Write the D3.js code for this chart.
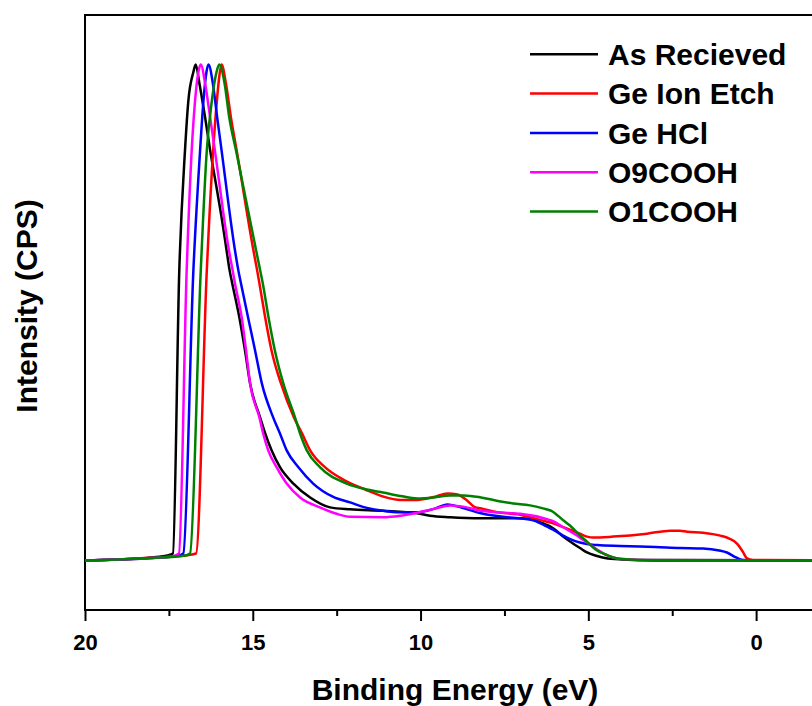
<!DOCTYPE html>
<html>
<head>
<meta charset="utf-8">
<script src="https://cdn.jsdelivr.net/npm/d3@7"></script>
<style>
  body { margin: 0; background: #fff; }
  svg { display: block; font-family: "Liberation Sans", Arial, sans-serif; font-weight: bold; }
</style>
</head>
<body>
<svg id="chart" width="812" height="706"></svg>
<script>
//

const seriesNames = ['As Recieved', 'Ge Ion Etch', 'Ge HCl', 'O9COOH', 'O1COOH']
const seriesColors = ['#000000', '#ff0000', '#0000ff', '#ff00ff', '#008000']
const majorTicks = [20, 15, 10, 5, 0]
const minorTicks = [17.5, 12.5, 7.5, 2.5, -2.5]

// [binding energy (eV), normalised intensity]
const asRecieved = [
  [20, 0], [19, 0.002], [18, 0.006], [17.55, 0.01], [17.38, 0.014], [17.19, 0.585], [17.02, 0.827],
  [16.92, 0.927], [16.77, 0.985], [16.7, 1.0], [16.59, 0.962], [16.42, 0.893], [16.27, 0.827],
  [16.1, 0.76], [15.93, 0.692], [15.78, 0.625], [15.69, 0.585], [15.61, 0.558], [15.4, 0.49],
  [15.23, 0.423], [15.08, 0.357], [14.78, 0.288], [14.63, 0.256], [14.44, 0.222], [14.19, 0.188],
  [13.79, 0.155], [13.29, 0.127], [12.7, 0.107], [12.1, 0.103], [11.12, 0.1], [10.1, 0.095],
  [9.72, 0.09], [9.12, 0.087], [8.2, 0.085], [7.1, 0.085], [6.74, 0.084], [6.44, 0.077],
  [6.05, 0.065], [5.75, 0.048], [5.5, 0.036], [5.25, 0.025], [5.04, 0.016], [4.74, 0.009],
  [4.5, 0.005], [4.0, 0.002], [3.0, 0], [-2.5, 0]
]
const geIonEtch = [
  [20, 0], [19, 0.002], [18, 0.006], [17, 0.01], [16.69, 0.014], [16.37, 0.585], [16.18, 0.827],
  [16.07, 0.927], [15.98, 0.985], [15.93, 1.0], [15.8, 0.962], [15.65, 0.893], [15.48, 0.827],
  [14.98, 0.625], [14.87, 0.585], [14.8, 0.558], [14.63, 0.49], [14.44, 0.423], [14.16, 0.357],
  [13.77, 0.288], [13.53, 0.256], [13.29, 0.222], [12.85, 0.188], [12.25, 0.161], [11.65, 0.143],
  [11.12, 0.129], [10.6, 0.122], [10.1, 0.122], [9.6, 0.128], [9.2, 0.135], [8.9, 0.133],
  [8.6, 0.12], [8.4, 0.108], [8.14, 0.104], [7.72, 0.097], [7.12, 0.093], [6.74, 0.087],
  [6.23, 0.078], [6.05, 0.075], [5.75, 0.067], [5.25, 0.054], [5.04, 0.048], [4.85, 0.046],
  [4.26, 0.048], [3.25, 0.054], [2.56, 0.06], [2.27, 0.06], [2.06, 0.058], [1.58, 0.056],
  [1.07, 0.05], [0.8, 0.044], [0.57, 0.034], [0.4, 0.018], [0.27, 0.004], [0.1, 0.001], [-2.5, 0]
]
const geHCl = [
  [20, 0], [19, 0.002], [18, 0.005], [17.2, 0.01], [17.07, 0.014], [16.77, 0.585], [16.57, 0.827],
  [16.47, 0.927], [16.38, 0.985], [16.32, 1.0], [16.19, 0.962], [16.06, 0.893], [15.93, 0.827],
  [15.53, 0.625], [15.43, 0.585], [15.35, 0.558], [15.14, 0.49], [14.93, 0.423], [14.73, 0.357],
  [14.39, 0.288], [14.19, 0.256], [13.99, 0.222], [13.64, 0.188], [13.2, 0.155], [12.6, 0.128],
  [12.1, 0.117], [11.6, 0.106], [11.12, 0.1], [10.6, 0.097], [10.1, 0.097], [9.6, 0.104],
  [9.2, 0.113], [8.7, 0.105], [8.2, 0.095], [7.24, 0.086], [7.03, 0.085], [6.6, 0.08],
  [6.23, 0.068], [6.05, 0.062], [5.75, 0.05], [5.54, 0.043], [5.25, 0.036], [5.04, 0.033],
  [4.74, 0.031], [4.05, 0.029], [3.0, 0.027], [2.27, 0.025], [1.58, 0.024], [1.1, 0.02],
  [0.87, 0.016], [0.6, 0.006], [0.4, 0.001], [0, 0], [-2.5, 0]
]
const o9cooh = [
  [20, 0], [19, 0.002], [18, 0.005], [17.4, 0.008], [17.2, 0.014], [16.97, 0.585], [16.82, 0.827],
  [16.72, 0.927], [16.62, 0.985], [16.55, 1.0], [16.42, 0.962], [16.27, 0.893], [16.13, 0.827],
  [15.71, 0.625], [15.6, 0.585], [15.53, 0.558], [15.33, 0.49], [15.2, 0.423], [15.08, 0.357],
  [14.8, 0.288], [14.69, 0.256], [14.54, 0.222], [14.29, 0.188], [13.99, 0.155], [13.59, 0.127],
  [13.0, 0.107], [12.5, 0.094], [12.1, 0.088], [11.12, 0.087], [10.6, 0.09], [10.1, 0.096],
  [9.6, 0.104], [9.12, 0.111], [8.7, 0.108], [8.2, 0.1], [7.24, 0.095], [7.03, 0.094],
  [6.23, 0.083], [6.05, 0.079], [5.75, 0.067], [5.25, 0.046], [5.04, 0.036], [4.74, 0.022],
  [4.5, 0.012], [4.26, 0.006], [4.0, 0.003], [3.0, 0.001], [-2.5, 0]
]
const o1cooh = [
  [20, 0], [19, 0.002], [18, 0.005], [17, 0.01], [16.87, 0.014], [16.55, 0.585], [16.37, 0.827],
  [16.22, 0.927], [16.08, 0.985], [16.0, 1.0], [15.84, 0.962], [15.7, 0.893], [15.5, 0.827],
  [14.9, 0.625], [14.78, 0.585], [14.7, 0.558], [14.53, 0.49], [14.34, 0.423], [14.09, 0.357],
  [13.74, 0.288], [13.59, 0.256], [13.39, 0.222], [13.0, 0.188], [12.2, 0.155], [11.6, 0.143],
  [11.12, 0.137], [10.6, 0.13], [10.1, 0.125], [9.6, 0.127], [9.12, 0.131], [8.7, 0.131],
  [8.2, 0.127], [7.7, 0.12], [7.24, 0.115], [6.74, 0.111], [6.35, 0.105], [6.1, 0.1],
  [5.75, 0.081], [5.54, 0.07], [5.25, 0.05], [5.04, 0.038], [4.74, 0.02], [4.56, 0.014],
  [4.26, 0.006], [4.0, 0.003], [3.25, 0.001], [-2.5, 0]
]

const seriesData = [asRecieved, geIonEtch, geHCl, o9cooh, o1cooh]

//

const svg = d3.select('#chart')

const x = d3.scaleLinear()
  .domain([20, -2.5])
  .range([85, 840])

const y = d3.scaleLinear()
  .domain([-0.1, 1.1])
  .range([610, 15])

// frame
svg.append('rect')
  .attr('x', x(20))
  .attr('y', y(1.1))
  .attr('width', x(-2.5) - x(20))
  .attr('height', y(-0.1) - y(1.1))
  .attr('fill', 'none')
  .attr('stroke', '#000')
  .attr('stroke-width', 2)

// x axis, major and minor ticks
const xAxis = d3.axisBottom(x)
  .tickValues(majorTicks)
  .tickFormat(d3.format('d'))
  .tickSize(11)
  .tickPadding(13)

const xMinor = d3.axisBottom(x)
  .tickValues(minorTicks)
  .tickFormat('')
  .tickSize(6)

const gx = svg.append('g')
  .attr('transform', `translate(0,${y(-0.1)})`)
  .call(xAxis)
gx.select('.domain').remove()
gx.selectAll('line').attr('stroke-width', 2)
gx.selectAll('text')
  .attr('fill', '#000')
  .style('font-size', '22px')
  .style('font-family', '"Liberation Sans", Arial, sans-serif')
  .style('font-weight', 'bold')

const gm = svg.append('g')
  .attr('transform', `translate(0,${y(-0.1)})`)
  .call(xMinor)
gm.select('.domain').remove()
gm.selectAll('line').attr('stroke-width', 2)

// axis titles
svg.append('text')
  .attr('x', 455)
  .attr('y', 700)
  .attr('text-anchor', 'middle')
  .style('font-size', '30px')
  .text('Binding Energy (eV)')

svg.append('text')
  .attr('transform', 'translate(37,306) rotate(-90)')
  .attr('text-anchor', 'middle')
  .style('font-size', '30px')
  .text('Intensity (CPS)')

// curves
const line = d3.line()
  .x((d) => x(d[0]))
  .y((d) => y(d[1]))
  .curve(d3.curveMonotoneX)

svg.append('g')
  .selectAll('path')
  .data(seriesData)
  .join('path')
  .attr('d', line)
  .attr('fill', 'none')
  .attr('stroke', (d, i) => seriesColors[i])
  .attr('stroke-width', 2.5)
  .attr('stroke-linejoin', 'round')

// legend
const legend = svg.append('g')
  .selectAll('g')
  .data(seriesNames)
  .join('g')
  .attr('transform', (d, i) => `translate(530,${54.3 + i * 39.3})`)

legend.append('line')
  .attr('x1', 0)
  .attr('x2', 68)
  .attr('stroke', (d, i) => seriesColors[i])
  .attr('stroke-width', 2.5)

legend.append('text')
  .attr('x', 78)
  .attr('dy', '0.36em')
  .style('font-size', '30px')
  .text((d) => d)
</script>
</body>
</html>
